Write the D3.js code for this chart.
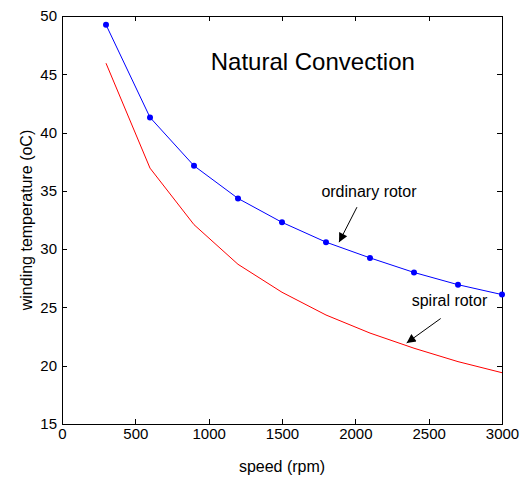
<!DOCTYPE html>
<html>
<head>
<meta charset="utf-8">
<script src="https://cdn.jsdelivr.net/npm/d3@7"></script>
<style>
    body { margin: 0; background: #fff; }
    svg { display: block; font-family: "Liberation Sans", Arial, sans-serif; }
    .axis path, .axis line { stroke: #000; shape-rendering: crispEdges; }
    .axis text { font-size: 15px; fill: #000; font-family: "Liberation Sans", Arial, sans-serif; }
</style>
</head>
<body>
<div id="chart"></div>
<script>
// speeds (rpm)
const speeds = [300, 600, 900, 1200, 1500, 1800, 2100, 2400, 2700, 3000]
// winding temperature (oC)
const ordinaryRotor = [49.25, 41.3, 37.15, 34.35, 32.3, 30.6, 29.25, 28.0, 26.95, 26.1]
const spiralRotor = [45.95, 36.95, 32.1, 28.7, 26.3, 24.35, 22.8, 21.5, 20.35, 19.4]

const xTicks = [0, 500, 1000, 1500, 2000, 2500, 3000]
const yTicks = [15, 20, 25, 30, 35, 40, 45, 50]

const config = {
    width: 524,
    height: 477,
    margin: { top: 16, right: 22, bottom: 53, left: 62 }
}

const innerW = config.width - config.margin.left - config.margin.right
const innerH = config.height - config.margin.top - config.margin.bottom

const svg = d3.select('#chart').append('svg')
    .attr('width', config.width)
    .attr('height', config.height)

svg.append('rect')
    .attr('width', config.width)
    .attr('height', config.height)
    .attr('fill', '#fff')

const chart = svg.append('g')
    .attr('transform', `translate(${config.margin.left},${config.margin.top})`)

const x = d3.scaleLinear().domain([0, 3000]).range([0, innerW])
const y = d3.scaleLinear().domain([15, 50]).range([innerH, 0])

// axes, matlab style ticks pointing inward
chart.append('g')
    .attr('class', 'axis')
    .attr('transform', `translate(0,${innerH})`)
    .call(d3.axisBottom(x).tickValues(xTicks).tickFormat(d3.format('d')).tickSizeInner(-5).tickSizeOuter(0).tickPadding(4))

chart.append('g')
    .attr('class', 'axis')
    .call(d3.axisLeft(y).tickValues(yTicks).tickSizeInner(-5).tickSizeOuter(0).tickPadding(5))

chart.append('g')
    .attr('class', 'axis')
    .call(d3.axisTop(x).tickValues(xTicks).tickFormat('').tickSizeInner(-5).tickSizeOuter(0))

chart.append('g')
    .attr('class', 'axis')
    .attr('transform', `translate(${innerW},0)`)
    .call(d3.axisRight(y).tickValues(yTicks).tickFormat('').tickSizeInner(-5).tickSizeOuter(0))

const line = d3.line()
    .x(d => x(d[0]))
    .y(d => y(d[1]))

const blueData = speeds.map((s, i) => [s, ordinaryRotor[i]])
const redData = speeds.map((s, i) => [s, spiralRotor[i]])

chart.append('path')
    .datum(redData)
    .attr('fill', 'none')
    .attr('stroke', '#ff0000')
    .attr('stroke-width', 1)
    .attr('d', line)

chart.append('path')
    .datum(blueData)
    .attr('fill', 'none')
    .attr('stroke', '#0000ff')
    .attr('stroke-width', 1)
    .attr('d', line)

chart.selectAll('.dot')
    .data(blueData)
    .join('circle')
    .attr('class', 'dot')
    .attr('cx', d => x(d[0]))
    .attr('cy', d => y(d[1]))
    .attr('r', 3)
    .attr('fill', '#0000ff')

// title inside the plot
chart.append('text')
    .attr('x', x(1710))
    .attr('y', y(45.4))
    .attr('text-anchor', 'middle')
    .attr('font-size', 24)
    .text('Natural Convection')

// annotations with arrows
svg.append('defs').append('marker')
    .attr('id', 'head')
    .attr('viewBox', '0 0 10 10')
    .attr('refX', 10)
    .attr('refY', 5)
    .attr('markerWidth', 13)
    .attr('markerHeight', 9)
    .attr('markerUnits', 'userSpaceOnUse')
    .attr('orient', 'auto')
    .append('path')
    .attr('d', 'M0,0L10,5L0,10Z')
    .attr('fill', '#000')

const notes = [
    { text: 'ordinary rotor', tx: 2093, ty: 34.45, from: [2011, 33.6], to: [1889, 30.6] },
    { text: 'spiral rotor', tx: 2642, ty: 25.1, from: [2582, 24.05], to: [2350, 21.95] }
]

notes.forEach(n => {
    chart.append('text')
        .attr('x', x(n.tx))
        .attr('y', y(n.ty))
        .attr('text-anchor', 'middle')
        .attr('font-size', 16)
        .text(n.text)
    chart.append('line')
        .attr('x1', x(n.from[0]))
        .attr('y1', y(n.from[1]))
        .attr('x2', x(n.to[0]))
        .attr('y2', y(n.to[1]))
        .attr('stroke', '#000')
        .attr('stroke-width', 1)
        .attr('marker-end', 'url(#head)')
})

// axis labels
svg.append('text')
    .attr('x', config.margin.left + innerW / 2)
    .attr('y', 472)
    .attr('text-anchor', 'middle')
    .attr('font-size', 16)
    .text('speed (rpm)')

svg.append('text')
    .attr('transform', `translate(32,${config.margin.top + innerH / 2}) rotate(-90)`)
    .attr('text-anchor', 'middle')
    .attr('font-size', 16)
    .text('winding temperature (oC)')
</script>
</body>
</html>
